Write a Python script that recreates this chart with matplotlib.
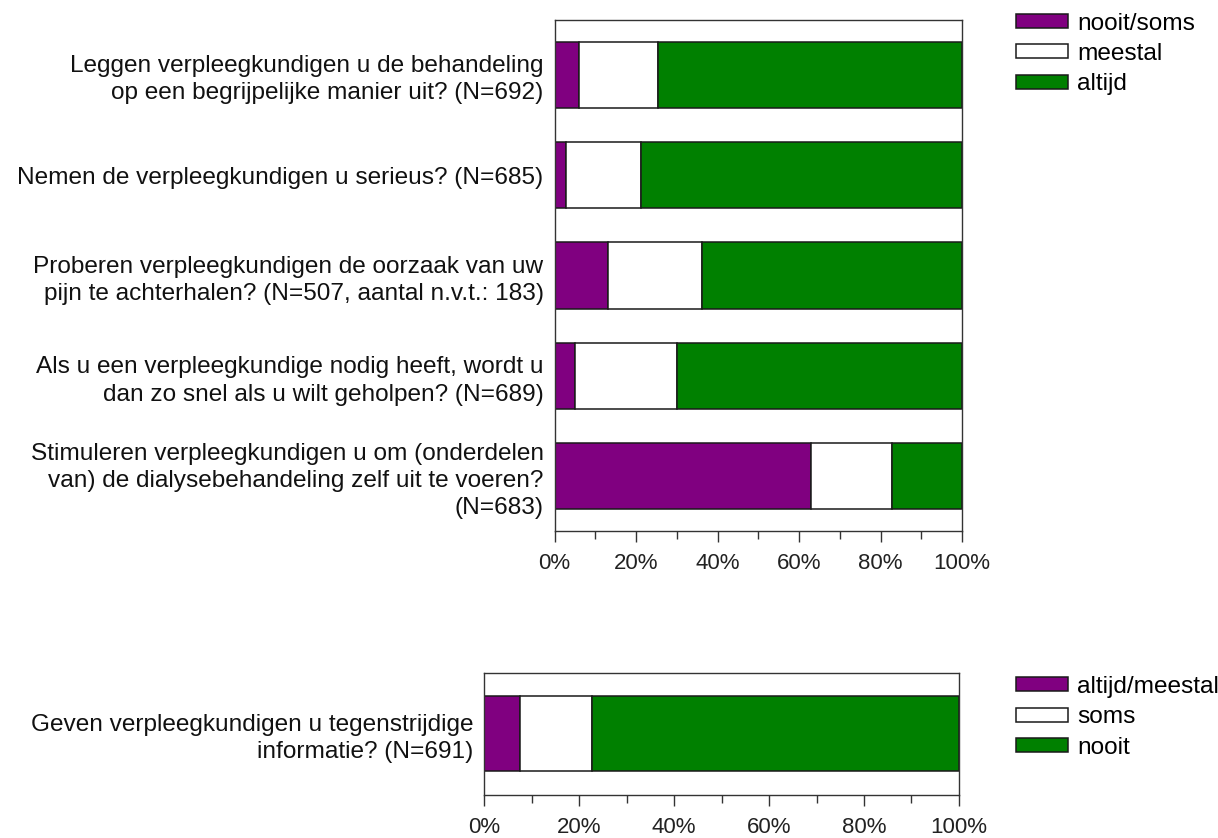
import numpy as np
import matplotlib
matplotlib.use('Agg')
import matplotlib.pyplot as plt
from matplotlib.ticker import MultipleLocator, PercentFormatter

plt.rcParams['font.family'] = ['Liberation Sans', 'DejaVu Sans']

# top block: nursing questions
top_questions = [
    'Leggen verpleegkundigen u de behandeling\nop een begrijpelijke manier uit? (N=692)',
    'Nemen de verpleegkundigen u serieus? (N=685)',
    'Proberen verpleegkundigen de oorzaak van uw\npijn te achterhalen? (N=507, aantal n.v.t.: 183)',
    'Als u een verpleegkundige nodig heeft, wordt u\ndan zo snel als u wilt geholpen? (N=689)',
    'Stimuleren verpleegkundigen u om (onderdelen\nvan) de dialysebehandeling zelf uit te voeren?\n(N=683)',
]
top_categories = ['nooit/soms', 'meestal', 'altijd']
top_nooit_soms = [6.0, 2.9, 13.1, 4.9, 62.9]
top_meestal = [19.3, 18.3, 23.0, 25.1, 20.0]
top_altijd = [74.7, 78.8, 63.9, 70.0, 17.1]

# bottom block: contradictory information
bottom_questions = ['Geven verpleegkundigen u tegenstrijdige\ninformatie? (N=691)']
bottom_categories = ['altijd/meestal', 'soms', 'nooit']
bottom_altijd_meestal = [7.5]
bottom_soms = [15.2]
bottom_nooit = [77.3]

COLORS = ['#800080', '#ffffff', '#008000']
FS = 17.6      # question + legend text
FS_TICK = 16


def stacked(ax, labels, series, names, bar_h):
    y = np.arange(len(labels))
    left = np.zeros(len(labels))
    handles = []
    for vals, col, name in zip(series, COLORS, names):
        vals = np.asarray(vals, dtype=float)
        b = ax.barh(y, vals, left=left, height=bar_h, color=col,
                    edgecolor='#1a1a1a', linewidth=1.1, label=name)
        handles.append(b)
        left = left + vals
    ax.set_yticks(y)
    ax.set_yticklabels(labels, fontsize=FS, color='#111111', linespacing=1.3)
    ax.tick_params(axis='y', length=0, pad=8)
    ax.set_xlim(0, 100)
    ax.xaxis.set_major_locator(MultipleLocator(20))
    ax.xaxis.set_minor_locator(MultipleLocator(10))
    ax.xaxis.set_major_formatter(PercentFormatter(decimals=0))
    ax.tick_params(axis='x', which='major', length=8, width=1.0,
                   color='#333333', labelsize=FS_TICK, labelcolor='#222222',
                   pad=8)
    ax.tick_params(axis='x', which='minor', length=6, width=1.0,
                   color='#333333')
    for sp in ax.spines.values():
        sp.set_color('#333333')
        sp.set_linewidth(1.0)
    return handles


def add_legend(handles, names, top_px):
    fig.legend(handles=handles, labels=names,
               loc='upper left', bbox_to_anchor=(1016 / 1218, 1 - top_px / 838),
               frameon=False, fontsize=FS, handlelength=2.13,
               handleheight=0.5, handletextpad=0.37, labelspacing=0.34,
               borderpad=0, borderaxespad=0)


fig = plt.figure(figsize=(12.18, 8.38), dpi=100, facecolor='white')

ax_top = fig.add_axes([0.4554, 0.3663, 0.3344, 0.6098])
h_top = stacked(ax_top, top_questions,
                [top_nooit_soms, top_meestal, top_altijd],
                top_categories, 0.66)
ax_top.set_ylim(4.545, -0.545)
add_legend(h_top, top_categories, 12.8)

ax_bot = fig.add_axes([0.3976, 0.0513, 0.3897, 0.1460])
h_bot = stacked(ax_bot, bottom_questions,
                [bottom_altijd_meestal, bottom_soms, bottom_nooit],
                bottom_categories, 0.615)
ax_bot.set_ylim(0.5, -0.5)
add_legend(h_bot, bottom_categories, 676)

fig.savefig('out.png', dpi=100, facecolor='white')
